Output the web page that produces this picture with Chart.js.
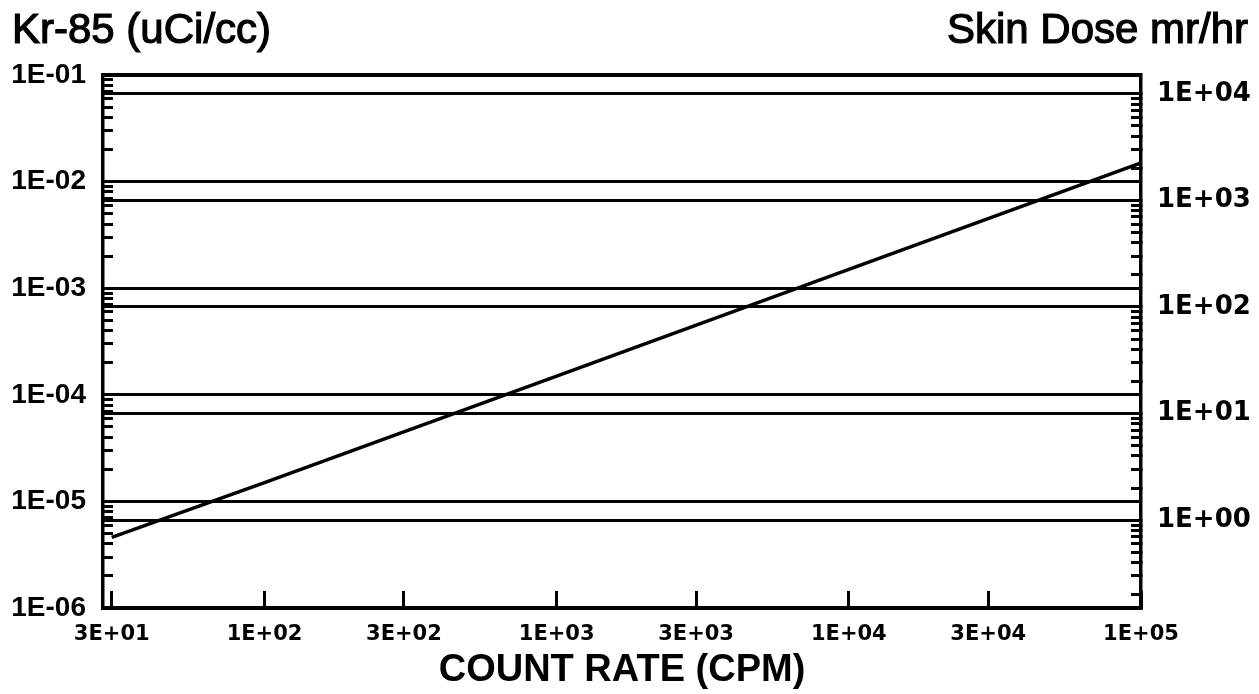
<!DOCTYPE html>
<html><head><meta charset="utf-8">
<script src="https://cdn.jsdelivr.net/npm/chart.js@4/dist/chart.umd.min.js"></script>
<style>html,body{margin:0;padding:0;background:#fff;overflow:hidden}canvas{display:block}</style>
</head><body>
<canvas id="c" width="1259" height="694"></canvas>
<script>
const leftTitle = 'Kr-85 (uCi/cc)';
const rightTitle = 'Skin Dose mr/hr';
const xTitle = 'COUNT RATE (CPM)';

const countRate = [30, 100, 1000, 10000, 100000];
const kr85Conc = [4.6e-6, 1.5e-5, 1.5e-4, 1.5e-3, 1.5e-2];

const xTickValues = [30, 100, 300, 1000, 3000, 10000, 30000, 100000];
const xTickLabels = ['3E+01', '1E+02', '3E+02', '1E+03', '3E+03', '1E+04', '3E+04', '1E+05'];
const leftDecades = [1e-6, 1e-5, 1e-4, 1e-3, 1e-2, 1e-1];
const leftTickLabels = ['1E-06', '1E-05', '1E-04', '1E-03', '1E-02', '1E-01'];
const rightDecades = [1, 10, 100, 1000, 10000];
const rightTickLabels = ['1E+00', '1E+01', '1E+02', '1E+03', '1E+04'];

const xRange = [28, 100000];
const leftRange = [1e-6, 1e-1];
const rightRange = [0.15, 15000];

function isDecade(v) {
  if (!v) return false;
  const l = Math.log10(v);
  return Math.abs(l - Math.round(l)) < 1e-6;
}
function logTicks(lo, hi) {
  const out = [];
  const kLo = Math.floor(Math.log10(lo)), kHi = Math.ceil(Math.log10(hi));
  for (let k = kLo; k <= kHi; k++) {
    for (let m = 1; m <= 9; m++) {
      const v = m * Math.pow(10, k);
      if (v >= lo * 0.9999 && v <= hi * 1.0001) out.push({ value: v });
    }
  }
  return out;
}
function labelFor(v, decades, labels) {
  for (let i = 0; i < decades.length; i++) {
    if (Math.abs(Math.log10(v) - Math.log10(decades[i])) < 1e-6) return labels[i];
  }
  return '';
}
const gridColor = c => (c.tick && isDecade(c.tick.value)) ? '#000' : 'rgba(0,0,0,0)';

const titlesPlugin = {
  id: 'cornerTitles',
  afterDraw(chart) {
    const ctx = chart.ctx;
    ctx.save();
    ctx.fillStyle = '#000';
    ctx.strokeStyle = '#000';
    ctx.lineWidth = 1.2;
    ctx.font = '42px "Liberation Sans", Arial, sans-serif';
    ctx.textBaseline = 'alphabetic';
    ctx.textAlign = 'left';
    ctx.fillText(leftTitle, 12, 43);
    ctx.strokeText(leftTitle, 12, 43);
    ctx.textAlign = 'right';
    ctx.fillText(rightTitle, 1248, 43);
    ctx.strokeText(rightTitle, 1248, 43);
    ctx.restore();
  }
};

new Chart(document.getElementById('c'), {
  type: 'scatter',
  data: {
    datasets: [{
      data: countRate.map((x, i) => ({ x: x, y: kr85Conc[i] })),
      showLine: true,
      borderColor: '#000',
      backgroundColor: '#000',
      borderWidth: 3.5,
      pointRadius: 0,
      xAxisID: 'x',
      yAxisID: 'y'
    }]
  },
  options: {
    responsive: false,
    animation: false,
    layout: { padding: { top: 75, left: 0, right: 0, bottom: 0 } },
    plugins: { legend: { display: false }, tooltip: { enabled: false } },
    scales: {
      x: {
        type: 'logarithmic', position: 'bottom', min: xRange[0], max: xRange[1],
        afterBuildTicks: s => { s.ticks = xTickValues.map(v => ({ value: v })); },
        afterFit: s => { s.height = 86; },
        grid: { display: true, drawOnChartArea: false, drawTicks: true, tickLength: -17, tickWidth: 3, tickColor: '#000', color: '#000' },
        border: { display: true, color: '#000', width: 3.5 },
        ticks: {
          autoSkip: false, maxRotation: 0, minRotation: 0, padding: 31, color: '#000',
          font: { family: '"DejaVu Sans"', size: 21, weight: 'bold' },
          callback: (v, i) => xTickLabels[i]
        },
        title: { display: true, text: xTitle, color: '#000', font: { family: '"Liberation Sans"', size: 38, weight: 'bold' }, padding: { top: 0, bottom: 1 } }
      },
      xTop: {
        type: 'logarithmic', position: 'top', min: xRange[0], max: xRange[1], display: true,
        afterBuildTicks: s => { s.ticks = []; },
        afterFit: s => { s.height = 0; },
        grid: { display: true, drawOnChartArea: false, drawTicks: false, color: 'rgba(0,0,0,0)' },
        border: { display: true, color: '#000', width: 3.5 },
        ticks: { display: false }
      },
      y: {
        type: 'logarithmic', position: 'left', min: leftRange[0], max: leftRange[1],
        afterBuildTicks: s => { s.ticks = logTicks(leftRange[0], leftRange[1]); },
        afterFit: s => { s.width = 103; },
        grid: { display: true, drawOnChartArea: true, color: gridColor, lineWidth: 3, drawTicks: true, tickLength: -10, tickWidth: 3, tickColor: '#000' },
        border: { display: true, color: '#000', width: 3.5 },
        ticks: {
          autoSkip: false, padding: 27, color: '#000',
          font: { family: '"Liberation Sans"', size: 28, weight: 'bold' },
          callback: v => labelFor(v, leftDecades, leftTickLabels)
        }
      },
      y2: {
        type: 'logarithmic', position: 'right', min: rightRange[0], max: rightRange[1], display: true,
        afterBuildTicks: s => { s.ticks = logTicks(rightRange[0], rightRange[1]); },
        afterFit: s => { s.width = 118; },
        grid: { display: true, drawOnChartArea: true, color: gridColor, lineWidth: 3, drawTicks: true, tickLength: -10, tickWidth: 3, tickColor: '#000' },
        border: { display: true, color: '#000', width: 3.5 },
        ticks: {
          autoSkip: false, padding: 26, color: '#000',
          font: { family: '"DejaVu Sans"', size: 26, weight: 'bold' },
          callback: v => labelFor(v, rightDecades, rightTickLabels)
        }
      }
    }
  },
  plugins: [titlesPlugin]
});
</script>
</body></html>
